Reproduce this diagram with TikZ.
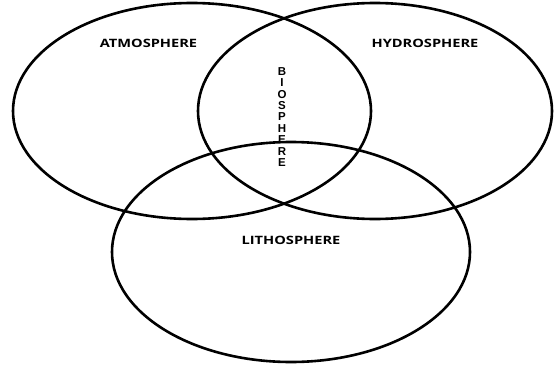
\documentclass[tikz,border=0pt]{standalone}
\usepackage{fontspec}
\setmainfont{Open Sans}
\newfontfamily\arialfont{Liberation Sans}
\begin{document}
\begin{tikzpicture}[x=1pt,y=-1pt,
  ring/.style={draw=black,line width=2.6pt},
  lbl/.style={font=\bfseries\fontsize{11.5}{13}\selectfont,inner sep=0pt,xscale=1.27,transform shape}]
\useasboundingbox (0,0) rectangle (554,372);
\coordinate (atm) at (192,111);
\coordinate (hyd) at (375,111);
\coordinate (lit) at (291,252);
\draw[ring] (atm) ellipse [x radius=179, y radius=108];
\draw[ring] (hyd) ellipse [x radius=177, y radius=108];
\draw[ring] (lit) ellipse [x radius=179, y radius=110];
\node[lbl] (tatm) at (148.5,43) {ATMOSPHERE};
\node[lbl] (thyd) at (425,43) {HYDROSPHERE};
\node[lbl] (tlit) at (291,240) {LITHOSPHERE};
\node[inner sep=0pt,align=center,font=\arialfont\bfseries\fontsize{11.5}{11.4}\selectfont] (tbio) at (282,117)
  {B\\I\\O\\S\\P\\H\\E\\R\\E};
\end{tikzpicture}
\end{document}
